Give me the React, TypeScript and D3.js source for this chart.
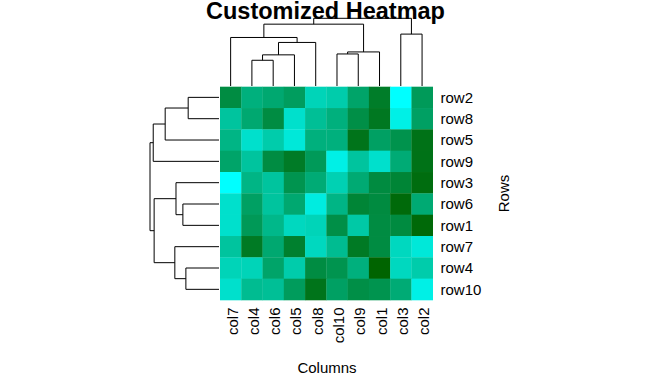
import React from "react";
import * as d3 from "d3";

const colLabels = ["col7", "col4", "col6", "col5", "col8", "col10", "col9", "col1", "col3", "col2"];
const rowLabels = ["row2", "row8", "row5", "row9", "row3", "row6", "row1", "row7", "row4", "row10"];

// cell values (0 = cyan, 1 = dark green), rows in display order, columns in display order
const row2 = [0.74, 0.51, 0.56, 0.63, 0.28, 0.33, 0.59, 0.84, 0.0, 0.65];
const row8 = [0.38, 0.56, 0.74, 0.2, 0.41, 0.51, 0.72, 0.87, 0.1, 0.61];
const row5 = [0.48, 0.2, 0.33, 0.15, 0.51, 0.51, 0.9, 0.61, 0.7, 0.91];
const row9 = [0.59, 0.38, 0.74, 0.85, 0.65, 0.1, 0.38, 0.2, 0.54, 0.91];
const row3 = [0.0, 0.48, 0.38, 0.69, 0.54, 0.3, 0.55, 0.75, 0.79, 0.94];
const row6 = [0.2, 0.61, 0.38, 0.56, 0.12, 0.48, 0.79, 0.75, 0.96, 0.55];
const row1 = [0.2, 0.66, 0.46, 0.25, 0.28, 0.72, 0.35, 0.74, 0.75, 0.97];
const row7 = [0.38, 0.86, 0.56, 0.82, 0.25, 0.43, 0.86, 0.74, 0.25, 0.15];
const row4 = [0.28, 0.28, 0.59, 0.33, 0.74, 0.69, 0.51, 1.0, 0.25, 0.33];
const row10 = [0.2, 0.43, 0.41, 0.64, 0.9, 0.61, 0.72, 0.69, 0.54, 0.1];
const heatValues = [row2, row8, row5, row9, row3, row6, row1, row7, row4, row10];

// hclust-style merges: negative = leaf -(displayIndex+1), positive = earlier merge (1-based); third = height
const colMerges: [number, number, number][] = [
  [-2, -3, 1.14],
  [1, -4, 1.38],
  [2, -5, 1.93],
  [-1, 3, 2.15],
  [-6, -7, 1.42],
  [5, -8, 1.51],
  [4, 6, 2.74],
  [-9, -10, 2.3],
  [7, 8, 3.0],
];
const rowMerges: [number, number, number][] = [
  [-1, -2, 1.34],
  [1, -3, 2.34],
  [2, -4, 2.86],
  [-6, -7, 1.57],
  [-5, 4, 1.87],
  [-9, -10, 1.44],
  [-8, 6, 1.92],
  [5, 7, 2.82],
  [3, 8, 3.0],
];

type Seg = { x1: number; y1: number; x2: number; y2: number };

function dendroSegments(
  merges: [number, number, number][],
  leafPos: (i: number) => number,
  hScale: (h: number) => number,
  vertical: boolean
): Seg[] {
  const nodes: { p: number; h: number }[] = [];
  const segs: Seg[] = [];
  const get = (ref: number) =>
    ref < 0 ? { p: leafPos(-ref - 1), h: 0 } : nodes[ref - 1];
  const mk = (p1: number, h1: number, p2: number, h2: number): Seg =>
    vertical
      ? { x1: p1, y1: hScale(h1), x2: p2, y2: hScale(h2) }
      : { x1: hScale(h1), y1: p1, x2: hScale(h2), y2: p2 };
  merges.forEach(([a, b, h]) => {
    const A = get(a);
    const B = get(b);
    segs.push(mk(A.p, A.h, A.p, h));
    segs.push(mk(B.p, B.h, B.p, h));
    segs.push(mk(A.p, h, B.p, h));
    nodes.push({ p: (A.p + B.p) / 2, h });
  });
  return segs;
}

export default function App() {
  const W = 661;
  const H = 380;
  const x = d3.scaleBand<string>().domain(colLabels).range([220, 432.7]);
  const y = d3.scaleBand<string>().domain(rowLabels).range([86.7, 300]);
  const color = d3
    .scaleLinear<string>()
    .domain([0, 1])
    .range(["#00FFFF", "#006400"])
    .interpolate(d3.interpolateRgb);

  const colH = d3.scaleLinear().domain([0, 3]).range([86, 18.3]);
  const rowH = d3.scaleLinear().domain([0, 3]).range([219, 150]);

  const colSegs = dendroSegments(
    colMerges,
    (i) => (x(colLabels[i]) as number) + x.bandwidth() / 2,
    colH,
    true
  );
  const rowSegs = dendroSegments(
    rowMerges,
    (i) => (y(rowLabels[i]) as number) + y.bandwidth() / 2,
    rowH,
    false
  );

  const font = "'Liberation Sans', Arial, sans-serif";

  return (
    <svg
      width={W}
      height={H}
      style={{ position: "absolute", left: 0, top: 0, background: "#fff" }}
      fontFamily={font}
    >
      <rect x={0} y={0} width={W} height={H} fill="#fff" />
      {heatValues.map((row, ri) =>
        row.map((v, ci) => (
          <rect
            key={`${ri}-${ci}`}
            x={x(colLabels[ci])}
            y={y(rowLabels[ri])}
            width={x.bandwidth() + 0.3}
            height={y.bandwidth() + 0.3}
            fill={color(v)}
          />
        ))
      )}
      <g stroke="#000" strokeWidth={1} fill="none">
        {colSegs.map((s, i) => (
          <line key={`c${i}`} {...s} />
        ))}
        {rowSegs.map((s, i) => (
          <line key={`r${i}`} {...s} />
        ))}
      </g>
      {rowLabels.map((r) => (
        <text
          key={r}
          x={440.5}
          y={(y(r) as number) + y.bandwidth() / 2}
          dy="0.36em"
          fontSize={15}
          fill="#000"
        >
          {r}
        </text>
      ))}
      {colLabels.map((c) => {
        const cx = (x(c) as number) + x.bandwidth() / 2 + 7;
        const cy = 307.5;
        return (
          <text
            key={c}
            transform={`translate(${cx},${cy}) rotate(-90)`}
            textAnchor="end"
            fontSize={15}
            fill="#000"
          >
            {c}
          </text>
        );
      })}
      <text x={327} y={373} textAnchor="middle" fontSize={15} fill="#000">
        Columns
      </text>
      <text
        transform={`translate(509,193.5) rotate(-90)`}
        textAnchor="middle"
        fontSize={15}
        fill="#000"
      >
        Rows
      </text>
      <text x={325.5} y={18.5} textAnchor="middle" fontSize={23.5} fontWeight="bold" fill="#000">
        Customized Heatmap
      </text>
    </svg>
  );
}
